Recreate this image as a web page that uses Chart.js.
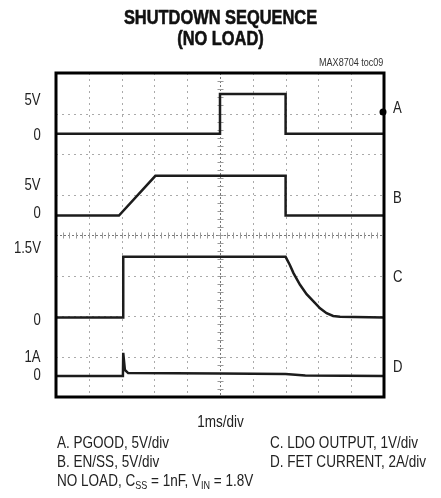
<!DOCTYPE html>
<html lang="en">
<head>
<meta charset="UTF-8" />
<title>Shutdown Sequence (No Load)</title>
<script src="https://cdn.jsdelivr.net/npm/chart.js"></script>
<style>
  body {
    margin: 0;
    background: #fff;
    color: #222;
    font-family: "Liberation Sans", Arial, sans-serif;
  }
  #wrap { position: relative; width: 441px; height: 498px; overflow: hidden; }
  #scope { position: absolute; left: 0; top: 0; }
  /* Arial-metric font squeezed to look like a narrow face */
  .narrow { transform: scaleX(0.82); transform-origin: left center; }
  .title {
    position: absolute; left: 0; top: 7px; width: 441px;
    text-align: center; font-weight: bold; font-size: 20px; line-height: 21px; color: #111;
    -webkit-text-stroke: 0.6px #111;
    transform-origin: center center;
  }
  .tag { position: absolute; right: 58px; top: 56px; font-size: 11px; line-height: 13px; color: #333; transform-origin: right center; }
  .lbl { position: absolute; font-size: 16px; line-height: 18px; white-space: nowrap; }
  .left { right: 400px; text-align: right; transform-origin: right center; }
  .right { left: 393px; }
  .note { position: absolute; font-size: 16.5px; line-height: 18px; white-space: nowrap; }
  .note sub { font-size: 11px; vertical-align: -3px; line-height: 0; }
</style>
</head>
<body>
<div id="wrap">
  <canvas id="scope" width="441" height="498"></canvas>
  <div class="title narrow">SHUTDOWN SEQUENCE<br>(NO LOAD)</div>
  <div class="tag narrow">MAX8704 toc09</div>
  <div class="note narrow" style="left:0;width:441px;text-align:center;top:412px;transform-origin:center center;">1ms/div</div>
  <div class="note narrow" style="left:57px;top:433px;">A. PGOOD, 5V/div</div>
  <div class="note narrow" style="left:270px;top:433px;">C. LDO OUTPUT, 1V/div</div>
  <div class="note narrow" style="left:57px;top:452px;">B. EN/SS, 5V/div</div>
  <div class="note narrow" style="left:270px;top:452px;">D. FET CURRENT, 2A/div</div>
  <div class="note narrow" style="left:57px;top:471px;">NO LOAD, C<sub>SS</sub> = 1nF, V<sub>IN</sub> = 1.8V</div>
</div>

<script>
// time in ms (1ms/div, 10 divisions across)
const pgoodTime  = [0, 5.0, 5.0, 7.0, 7.0, 10];
const pgoodVolts = [0, 0, 4.9, 4.9, 0, 0];

const enssTime  = [0, 1.92, 3.03, 7.0, 7.0, 10];
const enssVolts = [0, 0, 4.9, 4.9, 0, 0];

const ldoTime  = [0, 2.05, 2.05, 7.0, 7.13, 7.24, 7.44, 7.64, 7.85, 8.05, 8.25, 8.45, 8.66, 10];
const ldoVolts = [0, 0, 1.5, 1.5, 1.3, 1.1, 0.81, 0.58, 0.4, 0.23, 0.11, 0.04, 0.02, 0];

const fetTime = [0, 2.04, 2.05, 2.1, 2.2, 5.0, 7.0, 7.6, 10];
const fetAmps = [0, 0, 1.14, 0.3, 0.14, 0.12, 0.1, 0.02, 0];

// scope channels: ground level (divisions from bottom) and units per division
const channelNames   = ["A", "B", "C", "D"];
const channelGround  = [6.5, 4.48, 1.96, 0.52];
const channelPerDiv  = [5, 5, 1, 2];
const triggerLevel   = 7.04;

// text beside the screen: [text, height in divisions]
const leftLabels  = [["5V", 7.33], ["0", 6.47], ["5V", 5.23], ["0", 4.54], ["1.5V", 3.68], ["0", 1.91], ["1A", 0.99], ["0", 0.54]];
const rightLabels = [["A", 7.14], ["B", 4.91], ["C", 2.96], ["D", 0.74]];

const traces = [[pgoodTime, pgoodVolts], [enssTime, enssVolts], [ldoTime, ldoVolts], [fetTime, fetAmps]];

const datasets = traces.map(([t, v], i) => ({
  label: channelNames[i],
  data: t.map((ms, k) => ({ x: ms, y: channelGround[i] + v[k] / channelPerDiv[i] })),
  borderColor: "#1c1c1c",
  borderWidth: 2.5,
  pointRadius: 0,
  tension: 0
}));

function line(ctx, x1, y1, x2, y2) {
  ctx.beginPath();
  ctx.moveTo(x1, y1);
  ctx.lineTo(x2, y2);
  ctx.stroke();
}

const scopeGrid = {
  id: "scopeGrid",
  beforeDatasetsDraw(chart) {
    const { ctx, chartArea: a, scales: { x, y } } = chart;
    ctx.save();
    ctx.lineWidth = 1;
    ctx.strokeStyle = "#aaa";
    ctx.setLineDash([2, 4]);
    for (let i = 1; i < 10; i++) {
      if (i === 5) continue;
      const px = Math.round(x.getPixelForValue(i)) + 0.5;
      line(ctx, px, a.top, px, a.bottom);
    }
    for (let j = 1; j < 8; j++) {
      if (j === 4) continue;
      const py = Math.round(y.getPixelForValue(j)) + 0.5;
      line(ctx, a.left, py, a.right, py);
    }
    // centre cross with minor ticks every 0.2 div
    const cx = Math.round(x.getPixelForValue(5)) + 0.5;
    const cy = Math.round(y.getPixelForValue(4)) + 0.5;
    ctx.strokeStyle = "#777";
    ctx.setLineDash([2, 2]);
    line(ctx, cx, a.top, cx, a.bottom);
    line(ctx, a.left, cy, a.right, cy);
    ctx.setLineDash([]);
    ctx.strokeStyle = "#999";
    for (let k = 0; k <= 50; k++) {
      const px = Math.round(x.getPixelForValue(k / 5)) + 0.5;
      line(ctx, px, cy - 3, px, cy + 3);
    }
    for (let k = 0; k <= 40; k++) {
      const py = Math.round(y.getPixelForValue(k / 5)) + 0.5;
      line(ctx, cx - 3, py, cx + 3, py);
    }
    ctx.restore();
  },
  afterDraw(chart) {
    const { ctx, chartArea: a, scales: { y } } = chart;
    ctx.save();
    ctx.strokeStyle = "#000";
    ctx.lineWidth = 3;
    ctx.strokeRect(a.left, a.top, a.width, a.height);
    ctx.fillStyle = "#000";
    ctx.beginPath();
    ctx.arc(a.right - 1, y.getPixelForValue(triggerLevel), 3.5, 0, Math.PI * 2);
    ctx.fill();
    ctx.restore();
  }
};

const chart = new Chart(document.getElementById("scope"), {
  type: "line",
  data: { datasets },
  options: {
    responsive: false,
    animation: false,
    layout: { padding: { left: 56, right: 57, top: 73, bottom: 101 } },
    plugins: { legend: { display: false }, tooltip: { enabled: false } },
    scales: {
      x: { type: "linear", display: false, min: 0, max: 10 },
      y: { type: "linear", display: false, min: 0, max: 8 }
    }
  },
  plugins: [scopeGrid]
});

// channel labels placed through the y scale
const wrap = document.getElementById("wrap");
function addLabel(text, div, cls) {
  const el = document.createElement("div");
  el.className = "lbl narrow " + cls;
  el.textContent = text;
  el.style.top = (chart.scales.y.getPixelForValue(div) - 9) + "px";
  wrap.appendChild(el);
}
leftLabels.forEach(([t, d]) => addLabel(t, d, "left"));
rightLabels.forEach(([t, d]) => addLabel(t, d, "right"));
</script>
</body>
</html>
